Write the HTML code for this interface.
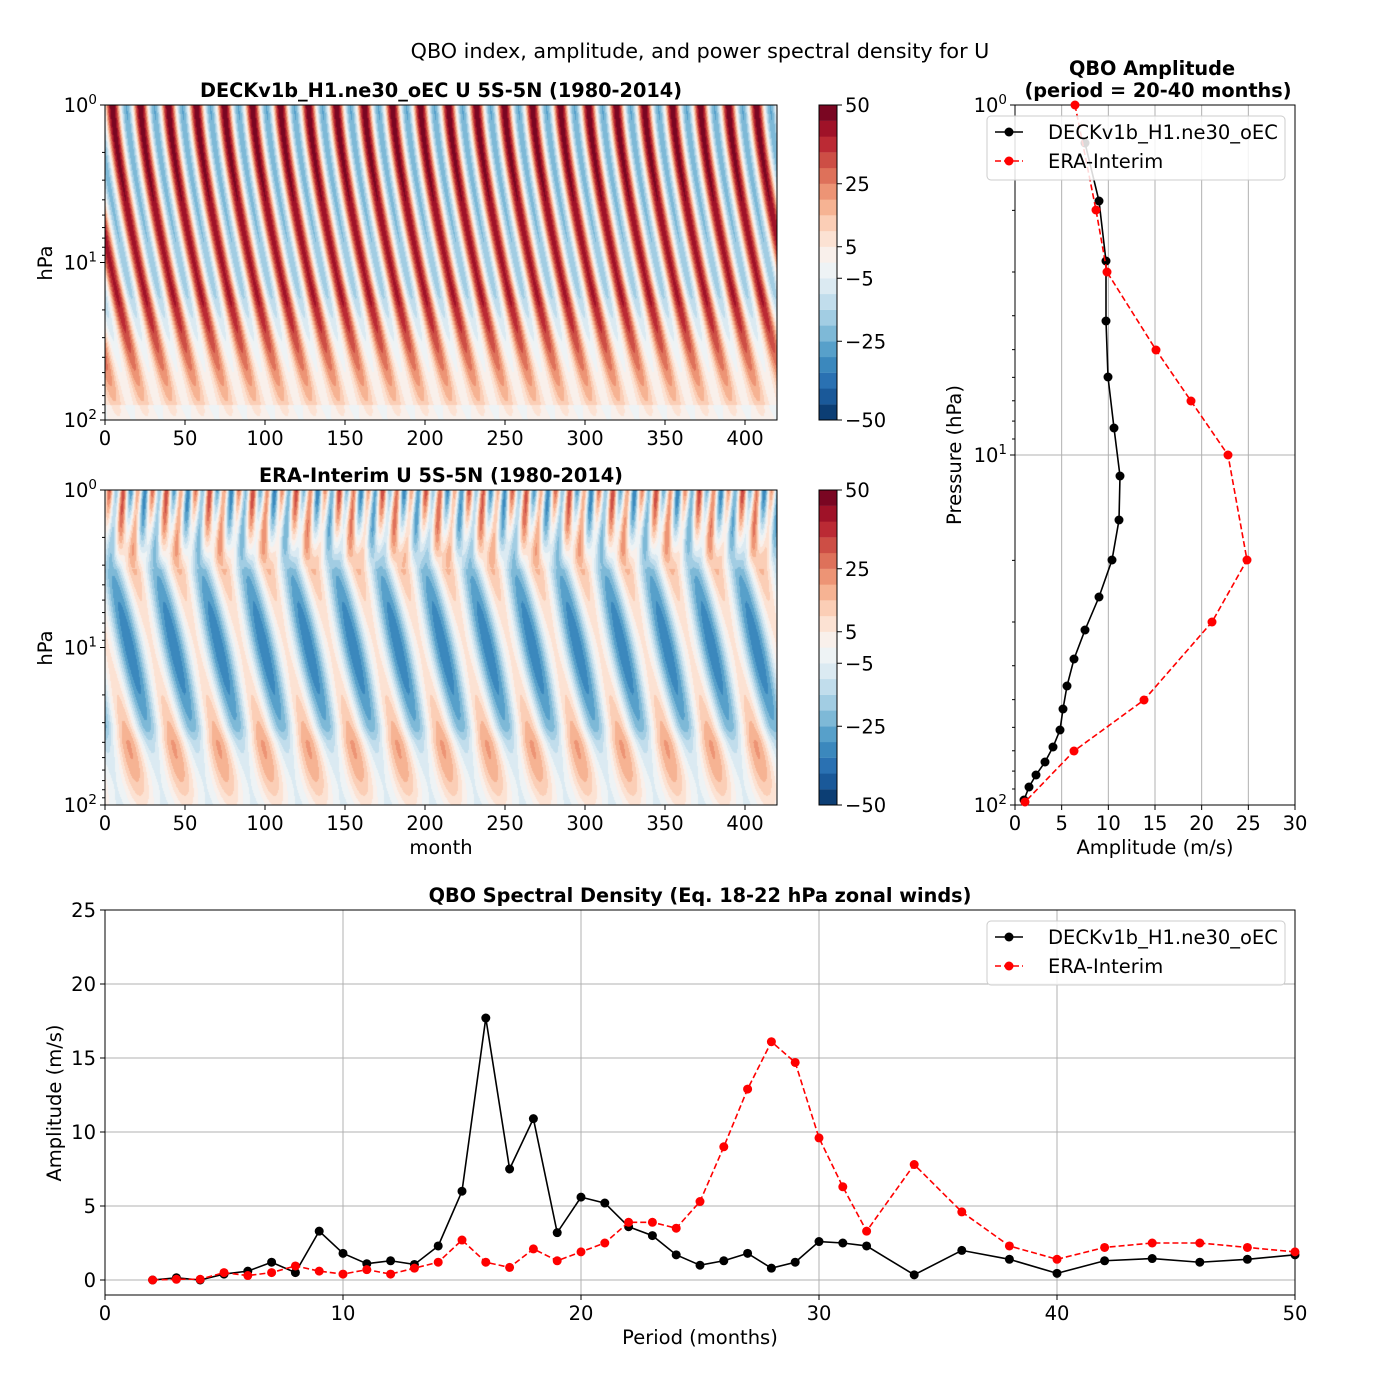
<!DOCTYPE html>
<html><head><meta charset="utf-8"><style>
body{margin:0;background:#fff;font-family:"Liberation Sans","DejaVu Sans",sans-serif}
#w{position:relative;width:1400px;height:1400px}
canvas{position:absolute}
svg{position:absolute;left:0;top:0}
text{font-family:"DejaVu Sans","Liberation Sans",sans-serif;font-size:19.5px;fill:#000}
.b{font-weight:bold;font-size:19.3px}
.t{font-size:20.7px}
</style></head><body><div id="w">
<canvas id="c1" width="672" height="315" style="left:105px;top:105px"></canvas>
<canvas id="c2" width="672" height="315" style="left:105px;top:490px"></canvas>
<svg id="s" width="1400" height="1400"></svg>
</div>
<script>
const A=[[5,48,97],[33,102,172],[67,147,195],[146,197,222],[209,229,240],[247,247,247],[253,219,199],[244,165,130],[214,96,77],[178,24,43],[103,0,31]];
function cm(f){f=Math.max(0,Math.min(1,f));let x=f*10,i=Math.min(9,Math.floor(x)),r=x-i;return A[i].map((v,k)=>Math.round(v+(A[i+1][k]-v)*r));}
function lev(u){let b=Math.floor((u+50)/5);b=Math.max(0,Math.min(19,b));return cm((b+0.5)/20);}
function draw(id,fn){const c=document.getElementById(id),g=c.getContext('2d'),im=g.createImageData(672,315);
for(let y=0;y<315;y++){const z=y/315*2;for(let x=0;x<672;x++){const t=x/672*420;const col=lev(fn(t,z));const o=(y*672+x)*4;im.data[o]=col[0];im.data[o+1]=col[1];im.data[o+2]=col[2];im.data[o+3]=255;}}
g.putImageData(im,0,0);}
draw('c1',(t,z)=>{const amp=z<1.2?42-8*z:42-8*1.2-(z-1.2)*38;const m=z<1.1?8:(z<1.9?8+4*Math.sin((z-1.1)/0.8*Math.PI):2);
const ph=2*Math.PI*(t-16*Math.pow(z,1.3))/17.5;const s=Math.sin(ph);
return Math.max(amp,3)*(s>0?s:s*0.8)+m;});
draw('c2',(t,z)=>{let amp=z<1.5?20:20-(z-1.5)*28;let m=0;
if(z>0.4&&z<1.6)m=-14*Math.sin((z-0.4)/1.2*Math.PI);if(z>1.5)m+=6*Math.sin((z-1.5)/0.5*Math.PI);
let u=amp*Math.sin(2*Math.PI*(t-22*z)/28)+m;if(z<0.5)u=u*(0.4+z)+(0.5-z)*55*Math.sin(2*Math.PI*t/9+z*5);return u;});
let h='';
function T(x,y,s,a,c){h+=`<text x="${x}" y="${y}" text-anchor="${a||'middle'}" ${c?'class="'+c+'"':''}>${s}</text>`;}
function L(x1,y1,x2,y2,st){h+=`<line x1="${x1}" y1="${y1}" x2="${x2}" y2="${y2}" stroke="${st||'#000'}" stroke-width="1"/>`;}
T(700,58,'QBO index, amplitude, and power spectral density for U','middle','t');
function cont(y0,title){
h+=`<rect x="105" y="${y0}" width="672" height="315" fill="none" stroke="#000"/>`;
T(441,y0-8,title,'middle','b');
for(let m=0;m<=400;m+=50){let x=105+m*672/420;L(x,y0+315,x,y0+320);T(x,y0+340,m);}
[[0,0],[1,157.5],[2,315]].forEach(([e,d])=>{L(100,y0+d,105,y0+d);T(97,y0+d+7,'10<tspan dy="-8" font-size="13.5">'+e+'</tspan>','end');});
for(let d=0;d<2;d++)for(let k=2;k<10;k++){let y=y0+(d+Math.log10(k))*157.5;L(102,y,105,y);}
h+=`<text transform="translate(52,${y0+158}) rotate(-90)" text-anchor="middle">hPa</text>`;
for(let b=0;b<20;b++){const c=cm((b+0.5)/20);h+=`<rect x="819" y="${y0+315-(b+1)*15.75}" width="18" height="15.9" fill="rgb(${c})"/>`;}
h+=`<rect x="819" y="${y0}" width="18" height="315" fill="none" stroke="#000"/>`;
[[50,20],[25,15],[5,11],[-5,9],[-25,5],[-50,0]].forEach(([v,b])=>{let y=y0+315-b*15.75;L(837,y,842,y);T(845,y+7,v<0?'−'+(-v):v,'start');});
}
cont(105,'DECKv1b_H1.ne30_oEC U 5S-5N (1980-2014)');
cont(490,'ERA-Interim U 5S-5N (1980-2014)');
T(441,854,'month');
for(let v=5;v<=25;v+=5){let x=1015+v*280/30;L(x,105,x,805,'#b0b0b0');}
L(1015,455,1295,455,'#b0b0b0');
h+=`<rect x="1015" y="105" width="280" height="700" fill="none" stroke="#000"/>`;
T(1152,75,'QBO Amplitude','middle','b');T(1158,97,'(period = 20-40 months)','middle','b');
for(let v=0;v<=30;v+=5){let x=1015+v*280/30;L(x,805,x,810);T(x,830,v);}
[[0,105],[1,455],[2,805]].forEach(([e,y])=>{L(1010,y,1015,y);T(1007,y+7,'10<tspan dy="-8" font-size="13.5">'+e+'</tspan>','end');});
for(let d=0;d<2;d++)for(let k=2;k<10;k++){let y=105+(d+Math.log10(k))*350;L(1012,y,1015,y);}
T(1155,854,'Amplitude (m/s)');
h+=`<text transform="translate(961,455) rotate(-90)" text-anchor="middle">Pressure (hPa)</text>`;
function ser(pts,col,dash){h+=`<polyline points="${pts.map(p=>p.join(',')).join(' ')}" fill="none" stroke="${col}" stroke-width="1.6" ${dash?'stroke-dasharray="6,3"':''}/>`;pts.forEach(p=>h+=`<circle cx="${p[0]}" cy="${p[1]}" r="4.5" fill="${col}"/>`);}
ser([[1085,143],[1099,201],[1106,261],[1106,321],[1108,377],[1114,428],[1120,476],[1119,520],[1112,560],[1099,597],[1085,630],[1074,659],[1067,686],[1063,709],[1060,730],[1053,747],[1045,762],[1036,775],[1029,787],[1024,800]],'#000');
ser([[1075,105],[1096,210],[1107,272],[1156,350],[1191,401],[1228,455],[1247,560],[1212,622],[1144,700],[1074,751],[1025,802]],'red',1);
function leg(x,y){h+=`<rect x="${x}" y="${y}" width="298" height="64" rx="4" fill="#fff" fill-opacity="0.85" stroke="#ccc"/>`;
h+=`<line x1="${x+8}" y1="${y+16}" x2="${x+36}" y2="${y+16}" stroke="#000" stroke-width="1.6"/><circle cx="${x+22}" cy="${y+16}" r="4.5"/>`;
h+=`<line x1="${x+8}" y1="${y+45}" x2="${x+36}" y2="${y+45}" stroke="red" stroke-width="1.6" stroke-dasharray="6,3"/><circle cx="${x+22}" cy="${y+45}" r="4.5" fill="red"/>`;
T(x+61,y+23,'DECKv1b_H1.ne30_oEC','start');T(x+61,y+52,'ERA-Interim','start');}
leg(987,116);
const X=v=>105+v*23.8,Y=v=>1280-v*14.8;
for(let v=10;v<50;v+=10)L(X(v),910,X(v),1295,'#b0b0b0');
for(let v=0;v<=25;v+=5)L(105,Y(v),1295,Y(v),'#b0b0b0');
h+=`<rect x="105" y="910" width="1190" height="385" fill="none" stroke="#000"/>`;
T(700,902,'QBO Spectral Density (Eq. 18-22 hPa zonal winds)','middle','b');
for(let v=0;v<=50;v+=10){L(X(v),1295,X(v),1300);T(X(v),1320,v);}
for(let v=0;v<=25;v+=5){L(100,Y(v),105,Y(v));T(96,Y(v)+7,v,'end');}
T(700,1344,'Period (months)');
h+=`<text transform="translate(61,1103) rotate(-90)" text-anchor="middle">Amplitude (m/s)</text>`;
const P=[2,3,4,5,6,7,8,9,10,11,12,13,14,15,16,17,18,19,20,21,22,23,24,25,26,27,28,29,30,31,32,34,36,38,40,42,44,46,48,50];
const B=[0,.15,0,.4,.6,1.2,.5,3.3,1.8,1.1,1.3,1.05,2.3,6,17.7,7.5,10.9,3.2,5.6,5.2,3.6,3,1.7,1,1.3,1.8,.8,1.2,2.6,2.5,2.3,.35,2,1.4,.45,1.3,1.45,1.2,1.4,1.7];
const R=[0,.05,.05,.5,.3,.5,.95,.6,.4,.7,.4,.8,1.2,2.7,1.2,.85,2.1,1.3,1.9,2.5,3.9,3.9,3.5,5.3,9,12.9,16.1,14.7,9.6,6.3,3.3,7.8,4.6,2.3,1.4,2.2,2.5,2.5,2.2,1.9];
ser(P.map((p,i)=>[X(p),Y(B[i])]),'#000');
ser(P.map((p,i)=>[X(p),Y(R[i])]),'red',1);
leg(987,921);
document.getElementById('s').innerHTML=h;
</script></body></html>
